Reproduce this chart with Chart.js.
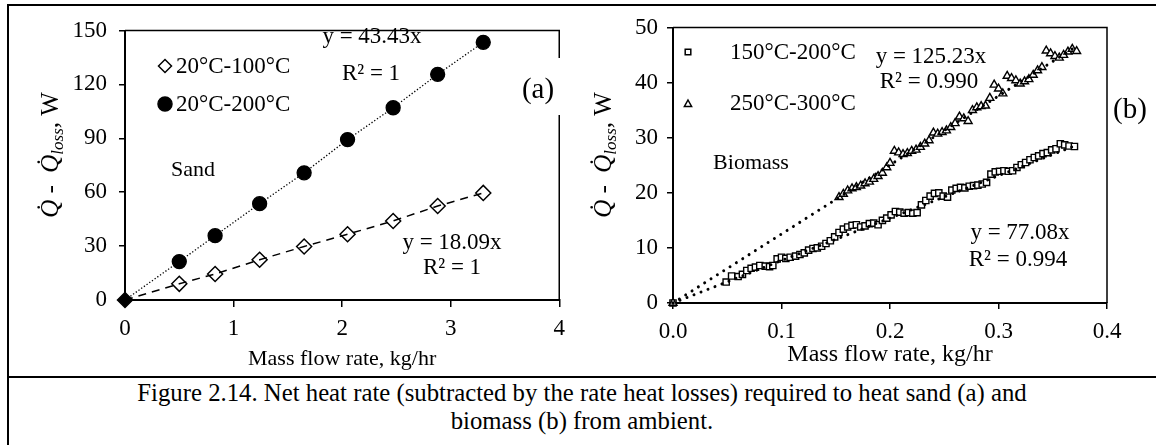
<!DOCTYPE html>
<html><head><meta charset="utf-8">
<script src="https://cdn.jsdelivr.net/npm/chart.js@4/dist/chart.umd.min.js"></script>
<style>
html,body{margin:0;padding:0;background:#fff;}
body{width:1156px;height:445px;position:relative;overflow:hidden;}
.ln{position:absolute;background:#000;}
canvas{position:absolute;}
#cap{position:absolute;left:8px;width:1148px;top:379px;text-align:center;font-family:"Liberation Serif","Times New Roman",serif;font-size:24.75px;line-height:28px;color:#000;white-space:nowrap;}
</style></head>
<body>
<div class="ln" style="left:7px;top:4px;width:1149px;height:2px;"></div>
<div class="ln" style="left:7px;top:4px;width:2px;height:441px;"></div>
<div class="ln" style="left:7px;top:376px;width:1149px;height:2px;"></div>
<canvas id="ca" width="565" height="368" style="left:10px;top:7px;"></canvas>
<canvas id="cb" width="581" height="368" style="left:575px;top:7px;"></canvas>
<div id="cap">Figure 2.14. Net heat rate (subtracted by the rate heat losses) required to heat sand (a) and<br>biomass (b) from ambient.</div>
<script>
// ---------- DATA ----------
// (a) Sand
const sandFlow = [0, 0.50, 0.83, 1.24, 1.65, 2.05, 2.47, 2.88, 3.30];
const sandHeat100 = [0, 9.0, 14.5, 22.4, 29.8, 36.6, 44.0, 52.3, 59.6];
const sandHeat200 = [0, 21.4, 35.8, 53.6, 70.8, 89.3, 107.0, 125.6, 143.4];
const sandLabels = ['20°C-100°C', '20°C-200°C'];
const xTicksA = ['0', '1', '2', '3', '4'];
const yTicksA = ['0', '30', '60', '90', '120', '150'];

// (b) Biomass
const bioFlow150 = [0, 0.049, 0.054, 0.060, 0.064, 0.068, 0.072, 0.076, 0.080, 0.085, 0.089, 0.092, 0.096, 0.100, 0.104, 0.108,
  0.113, 0.117, 0.121, 0.125, 0.129, 0.133, 0.137, 0.141, 0.145, 0.149, 0.153, 0.157, 0.161, 0.165, 0.169, 0.173,
  0.177, 0.181, 0.185, 0.189, 0.193, 0.197, 0.201, 0.205, 0.209, 0.213, 0.217, 0.221, 0.225, 0.229, 0.233, 0.237,
  0.241, 0.245, 0.249, 0.253, 0.257, 0.261, 0.265, 0.269, 0.273, 0.277, 0.281, 0.285, 0.289, 0.293, 0.297, 0.301,
  0.305, 0.309, 0.313, 0.317, 0.321, 0.325, 0.329, 0.333, 0.337, 0.341, 0.345, 0.349, 0.353, 0.357, 0.361, 0.365, 0.370];
const bioHeat150 = [0, 3.8, 4.9, 4.8, 5.2, 5.9, 6.3, 6.5, 6.8, 6.7, 6.6, 6.8, 8.0, 8.3, 8.1, 8.3,
  8.5, 8.8, 9.1, 9.6, 9.9, 10.0, 10.3, 10.8, 11.3, 12.0, 12.8, 13.4, 13.8, 14.1, 14.2, 13.8,
  14.0, 14.4, 14.5, 14.2, 15.0, 15.4, 16.0, 16.6, 16.5, 16.3, 16.4, 16.3, 16.4, 17.8, 18.6, 19.4,
  19.9, 20.0, 19.4, 19.2, 20.5, 20.8, 21.0, 20.9, 21.2, 21.3, 21.4, 21.6, 21.9, 23.4, 23.8, 23.9,
  24.0, 23.9, 24.0, 24.6, 25.1, 25.5, 26.0, 26.4, 26.7, 27.1, 27.3, 27.8, 28.0, 28.9, 28.7, 28.5, 28.4];
const bioFlow250 = [0, 0.153, 0.157, 0.161, 0.165, 0.169, 0.173, 0.177, 0.181, 0.185, 0.189, 0.193, 0.197, 0.200, 0.204,
  0.208, 0.212, 0.216, 0.220, 0.224, 0.228, 0.232, 0.236, 0.240, 0.244, 0.248, 0.252, 0.256, 0.260, 0.264, 0.268,
  0.272, 0.276, 0.280, 0.284, 0.288, 0.292, 0.296, 0.300, 0.304, 0.308, 0.312, 0.316, 0.320, 0.324, 0.328, 0.332,
  0.336, 0.340, 0.344, 0.348, 0.352, 0.356, 0.360, 0.364, 0.368, 0.372];
const bioHeat250 = [0, 19.2, 19.8, 20.4, 20.8, 21.0, 21.3, 21.7, 22.0, 22.5, 23.0, 23.6, 24.6, 25.4, 27.6,
  27.3, 27.0, 27.2, 27.6, 27.8, 28.3, 28.9, 29.5, 30.9, 30.7, 31.0, 31.3, 31.9, 32.6, 33.8, 33.5,
  33.0, 35.0, 35.5, 35.7, 35.8, 37.2, 39.6, 38.9, 38.0, 41.2, 40.8, 40.4, 39.8, 40.2, 40.6, 41.4,
  42.2, 42.8, 45.8, 45.3, 44.8, 44.5, 45.0, 45.6, 46.1, 45.7];
const trendFlow150 = [0, 0.370];
const trendHeat150 = [0, 28.5];
const trendFlow250 = [0, 0.372];
const trendHeat250 = [0, 46.6];
const bioLabels = ['150°C-200°C', '250°C-300°C'];
const xTicksB = ['0.0', '0.1', '0.2', '0.3', '0.4'];
const yTicksB = ['0', '10', '20', '30', '40', '50'];

// ---------- HELPERS ----------
const SERIF = '"Liberation Serif", "Times New Roman", serif';
const pts = (xs, ys) => xs.map((x, i) => ({x: x, y: ys[i]}));

function txt(ctx, s, x, y, size, align, italic) {
  ctx.save();
  ctx.font = (italic ? 'italic ' : '') + size + 'px ' + SERIF;
  ctx.textAlign = align || 'center';
  ctx.textBaseline = 'middle';
  ctx.fillStyle = '#000';
  ctx.fillText(s, x, y);
  ctx.restore();
}
function yTitle(ctx, cx, cy) {
  ctx.save();
  ctx.translate(cx, cy);
  ctx.rotate(-Math.PI / 2);
  const big = 'italic 25px ' + SERIF, reg = '25px ' + SERIF, sub = 'italic 17px ' + SERIF;
  const parts = [['Q\u0307', big, 0], [' -  ', reg, 0], ['Q\u0307', big, 0], ['loss', sub, 5], [', W', reg, 0]];
  let total = 0;
  parts.forEach(p => { ctx.font = p[1]; p.w = ctx.measureText(p[0]).width; total += p.w; });
  let x = -total / 2;
  ctx.textBaseline = 'alphabetic';
  ctx.textAlign = 'left';
  ctx.fillStyle = '#000';
  parts.forEach(p => { ctx.font = p[1]; ctx.fillText(p[0], x, p[2]); x += p.w; });
  ctx.restore();
}
function marker(ctx, style, x, y, r, fill) {
  ctx.save();
  ctx.beginPath();
  if (style === 'circle') ctx.arc(x, y, r, 0, Math.PI * 2);
  else if (style === 'rectRot') { ctx.moveTo(x - r, y); ctx.lineTo(x, y - r); ctx.lineTo(x + r, y); ctx.lineTo(x, y + r); ctx.closePath(); }
  else if (style === 'rect') { ctx.rect(x - r, y - r, 2 * r, 2 * r); }
  else if (style === 'triangle') { ctx.moveTo(x, y - r); ctx.lineTo(x + r * 0.9, y + r * 0.6); ctx.lineTo(x - r * 0.9, y + r * 0.6); ctx.closePath(); }
  ctx.fillStyle = fill; ctx.fill();
  ctx.lineWidth = 1.5; ctx.strokeStyle = '#000'; ctx.stroke();
  ctx.restore();
}
function frameBox(ctx, a) {
  ctx.save();
  ctx.strokeStyle = '#000';
  ctx.lineWidth = 1.5;
  ctx.beginPath();
  ctx.moveTo(a.left, a.top); ctx.lineTo(a.right, a.top); ctx.lineTo(a.right, a.bottom);
  ctx.stroke();
  ctx.restore();
}
function scaleOpts(min, max, step, labels, pad, tickLen, fitKey, fitVal, title) {
  const o = {
    type: 'linear', min: min, max: max,
    ticks: { stepSize: step, padding: pad, color: '#000', font: {family: SERIF, size: 23, lineHeight: 1},
      callback: (v, i) => labels[i] },
    grid: { drawOnChartArea: false, drawTicks: true, tickLength: tickLen, color: '#000', lineWidth: 1.5 },
    border: { display: true, color: '#000', width: 2 },
    afterFit: s => { s[fitKey] = fitVal; }
  };
  if (title) o.title = title; else o.title = {display: false};
  return o;
}

Chart.defaults.animation = false;
Chart.defaults.font.family = SERIF;

// ---------- CHART (a) ----------
const plugA = {
  id: 'plugA',
  beforeDatasetsDraw(c) { frameBox(c.ctx, c.chartArea); },
  afterDraw(c) {
    const ctx = c.ctx;
    yTitle(ctx, 48, 148);
    // legend
    marker(ctx, 'rectRot', 155, 59, 6.5, '#fff');
    txt(ctx, sandLabels[0], 166, 60, 23, 'left');
    marker(ctx, 'circle', 155, 97, 7, '#000');
    txt(ctx, sandLabels[1], 166, 98, 23, 'left');
    txt(ctx, 'Sand', 183, 163, 22);
    txt(ctx, 'y = 43.43x', 362, 30, 23);
    txt(ctx, 'R² = 1', 361, 67, 23);
    txt(ctx, 'y = 18.09x', 442, 236, 23);
    txt(ctx, 'R² = 1', 442, 261, 23);
    ctx.save(); ctx.fillStyle = '#fff'; ctx.fillRect(506, 51, 52, 57); ctx.restore();
    txt(ctx, '(a)', 528, 83, 29);
  }
};
new Chart(document.getElementById('ca'), {
  type: 'line',
  data: { datasets: [
    { label: sandLabels[0], data: pts(sandFlow, sandHeat100), borderColor: '#000', borderWidth: 1.5, borderDash: [8, 6],
      pointStyle: 'rectRot', pointRadius: 7.5, pointBorderColor: '#000', pointBorderWidth: 1.5,
      pointBackgroundColor: ['#000', 'rgba(0,0,0,0)', 'rgba(0,0,0,0)', 'rgba(0,0,0,0)', 'rgba(0,0,0,0)', 'rgba(0,0,0,0)', 'rgba(0,0,0,0)', 'rgba(0,0,0,0)', 'rgba(0,0,0,0)'],
      clip: false, tension: 0 },
    { label: sandLabels[1], data: pts(sandFlow, sandHeat200), borderColor: '#000', borderWidth: 1.3, borderDash: [1.3, 2],
      pointStyle: 'circle', pointRadius: [0, 7, 7, 7, 7, 7, 7, 7, 7], pointBackgroundColor: '#000', pointBorderColor: '#000',
      clip: false, tension: 0 }
  ]},
  options: {
    responsive: false, animation: false,
    layout: { padding: {top: 12, right: 15, left: 0, bottom: 0} },
    plugins: { legend: {display: false}, tooltip: {enabled: false} },
    scales: {
      x: scaleOpts(0, 4, 1, xTicksA, 10, 7, 'height', 75,
        {display: true, text: 'Mass flow rate, kg/hr', color: '#000', font: {family: SERIF, size: 22, lineHeight: 1}, padding: {top: 0, bottom: 5}}),
      y: scaleOpts(0, 150, 30, yTicksA, 12, 6, 'width', 115, null)
    }
  },
  plugins: [plugA]
});

// ---------- CHART (b) ----------
const plugB = {
  id: 'plugB',
  beforeDatasetsDraw(c) { frameBox(c.ctx, c.chartArea); },
  afterDraw(c) {
    const ctx = c.ctx;
    yTitle(ctx, 36, 148);
    marker(ctx, 'rect', 113, 45, 2.8, '#fff');
    txt(ctx, bioLabels[0], 155, 46, 23, 'left');
    marker(ctx, 'triangle', 113, 97, 4, '#fff');
    txt(ctx, bioLabels[1], 155, 97, 23, 'left');
    txt(ctx, 'Biomass', 176, 156, 22);
    txt(ctx, 'y = 125.23x', 356, 50, 23);
    txt(ctx, 'R² = 0.990', 354, 75, 23);
    txt(ctx, 'y = 77.08x', 445, 226, 23);
    txt(ctx, 'R² = 0.994', 443, 253, 23);
    txt(ctx, '(b)', 555, 103, 29);
  }
};
new Chart(document.getElementById('cb'), {
  type: 'line',
  data: { datasets: [
    { label: 'trend ' + bioLabels[1], data: pts(trendFlow250, trendHeat250), borderColor: '#000', borderWidth: 3,
      borderDash: [0.01, 7.5], borderCapStyle: 'round', pointRadius: 0, clip: false },
    { label: 'trend ' + bioLabels[0], data: pts(trendFlow150, trendHeat150), borderColor: '#000', borderWidth: 3,
      borderDash: [0.01, 7.5], borderCapStyle: 'round', pointRadius: 0, clip: false },
    { label: bioLabels[1], data: pts(bioFlow250, bioHeat250), showLine: false, pointStyle: 'triangle', pointRadius: 4.6,
      pointBackgroundColor: '#fff', pointBorderColor: '#000', pointBorderWidth: 1.4, clip: false },
    { label: bioLabels[0], data: pts(bioFlow150, bioHeat150), showLine: false, pointStyle: 'rect', pointRadius: 4.4,
      pointBackgroundColor: '#fff', pointBorderColor: '#000', pointBorderWidth: 1.4, clip: false }
  ]},
  options: {
    responsive: false, animation: false,
    layout: { padding: {top: 18, right: 49, left: 0, bottom: 0} },
    plugins: { legend: {display: false}, tooltip: {enabled: false} },
    scales: {
      x: scaleOpts(0, 0.4, 0.1, xTicksB, 11.5, 6, 'height', 72,
        {display: true, text: 'Mass flow rate, kg/hr', color: '#000', font: {family: SERIF, size: 24, lineHeight: 1}, padding: {top: 0, bottom: 8}}),
      y: scaleOpts(0, 50, 10, yTicksB, 9, 6, 'width', 98, null)
    }
  },
  plugins: [plugB]
});
</script>
</body></html>
